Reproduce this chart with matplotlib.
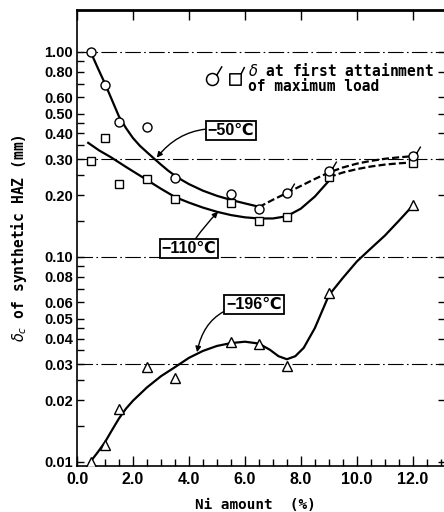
import numpy as np
import matplotlib
matplotlib.use("Agg")
import matplotlib.pyplot as plt
from matplotlib.path import Path
from matplotlib.lines import Line2D
from matplotlib.legend_handler import HandlerTuple
from matplotlib.ticker import FixedLocator, FixedFormatter, NullFormatter, MultipleLocator

# ---- data ---------------------------------------------------------------
ni = [0.5, 1.0, 1.5, 2.5, 3.5, 5.5, 6.5, 7.5, 9.0, 12.0]
d_50 = [1.00, 0.69, 0.455, 0.43, 0.243, 0.203, 0.172, 0.204, 0.262, 0.311]
d_110 = [0.295, 0.38, 0.227, 0.24, 0.192, 0.183, 0.15, 0.157, 0.246, 0.288]
d_196 = [0.0100, 0.0121, 0.0181, 0.029, 0.0257, 0.0385, 0.0377, 0.0294, 0.0667, 0.18]
flag_50 = [False, False, False, False, False, False, False, True, True, True]

# fitted curves (traced)
c50_x = [0.5, 0.75, 1.0, 1.25, 1.5, 1.75, 2.0, 2.25, 2.5, 2.75, 3.0, 3.25, 3.5, 3.75,
         4.0, 4.5, 5.0, 5.5, 6.0, 6.4]
c50_y = [0.99, 0.83, 0.70, 0.582, 0.484, 0.425, 0.380, 0.348, 0.324, 0.302, 0.282, 0.264,
         0.249, 0.237, 0.2265, 0.2104, 0.1986, 0.1897, 0.1824, 0.177]
c50d_x = [6.5, 7.0, 7.5, 8.0, 8.5, 9.0, 9.5, 10.0, 10.5, 11.0, 11.5, 12.0]
c50d_y = [0.175, 0.19, 0.205, 0.222, 0.24, 0.258, 0.273, 0.285, 0.294, 0.301, 0.306, 0.31]

c110_x = [0.4, 0.8, 1.2, 1.8, 2.4, 3.0, 3.5, 4.0, 4.5, 5.0, 5.5, 6.0, 6.5, 7.0, 7.5, 8.0, 8.5, 9.0]
c110_y = [0.36, 0.33, 0.307, 0.272, 0.242, 0.215, 0.196, 0.184, 0.174, 0.166, 0.160, 0.156, 0.154, 0.154, 0.158, 0.172, 0.197, 0.235]
c110d_x = [9.0, 9.5, 10.0, 10.5, 11.0, 11.5, 12.0]
c110d_y = [0.245, 0.258, 0.268, 0.276, 0.282, 0.286, 0.289]

c196_x = [0.45, 0.75, 1.0, 1.25, 1.5, 1.75, 2.0, 2.5, 3.0, 3.5, 4.0, 4.5, 5.0, 5.5, 6.0, 6.5,
          6.9, 7.2, 7.5, 7.8, 8.1, 8.5, 9.0, 9.5, 10.0, 10.5, 11.0, 11.5, 12.0]
c196_y = [0.0099, 0.0112, 0.0125, 0.0143, 0.0163, 0.0182, 0.0199, 0.0231, 0.0262, 0.029, 0.0322,
          0.0348, 0.0368, 0.038, 0.0386, 0.0378, 0.0352, 0.0328, 0.0317, 0.0328, 0.036, 0.045,
          0.065, 0.079, 0.095, 0.110, 0.127, 0.150, 0.178]

ytick_vals = [1.0, 0.8, 0.6, 0.5, 0.4, 0.3, 0.2, 0.1, 0.08, 0.06, 0.05, 0.04, 0.03, 0.02, 0.01]
ytick_labels = ["1.00", "0.80", "0.60", "0.50", "0.40", "0.30", "0.20", "0.10",
                "0.08", "0.06", "0.05", "0.04", "0.03", "0.02", "0.01"]
yminor_vals = [0.9, 0.7, 0.45, 0.35, 0.25, 0.15, 0.09, 0.07, 0.045, 0.035, 0.025, 0.015]
grid_y = [1.0, 0.3, 0.1, 0.03]
# --------------------------------------------------------------------------

TICKFONT = ["Liberation Sans", "DejaVu Sans"]
MONO = ["DejaVu Sans Mono", "DejaVu Sans"]

# markers with a small flag (first attainment of maximum load)
flag = Path([(0.7, 0.7), (1.6, 2.2)], [Path.MOVETO, Path.LINETO])
circ_flag = Path.make_compound_path(Path.unit_circle(), flag)
sq = Path([(-1, -1), (1, -1), (1, 1), (-1, 1), (-1, -1)],
          [Path.MOVETO, Path.LINETO, Path.LINETO, Path.LINETO, Path.CLOSEPOLY])
sq_flag = Path.make_compound_path(sq, Path([(1, 1), (1.6, 2.2)], [Path.MOVETO, Path.LINETO]))

fig = plt.figure(figsize=(4.44, 5.12), dpi=100)
ax = fig.add_axes([77 / 444, 46 / 512, 368 / 444, 456 / 512])
ax.set_yscale("log")
ax.set_xlim(0, 13.15)
ax.set_ylim(0.00956, 1.6)

for g in grid_y:
    ax.axhline(g, color="k", lw=0.8, ls=(0, (14, 3, 1.5, 3)), zorder=1)

LW = 1.6
DASH = (0, (3.2, 1.4))
ax.plot(c50_x, c50_y, color="k", lw=LW, zorder=2)
ax.plot(c50d_x, c50d_y, color="k", lw=LW, ls=DASH, zorder=2)
ax.plot(c110_x, c110_y, color="k", lw=LW, zorder=2)
ax.plot(c110d_x, c110d_y, color="k", lw=LW, ls=DASH, zorder=2)
ax.plot(c196_x, c196_y, color="k", lw=LW, zorder=2)

ni = np.array(ni)
d_50 = np.array(d_50)
flag_50 = np.array(flag_50)
MS = 6.5
ax.plot(ni[~flag_50], d_50[~flag_50], ls="none", marker="o", ms=MS, mfc="white", mec="k", mew=1.0, zorder=4)
ax.plot(ni[flag_50], d_50[flag_50], ls="none", marker=circ_flag, ms=MS * 2.2, mfc="white", mec="k", mew=1.0, zorder=4)
ax.plot(ni, d_110, ls="none", marker="s", ms=6.0, mfc="white", mec="k", mew=1.0, zorder=3)
ax.plot(ni, d_196, ls="none", marker="^", ms=7.5, mfc="white", mec="k", mew=1.0, zorder=4)

# boxed temperature labels
box = dict(boxstyle="square,pad=0.12", fc="white", ec="k", lw=1.3)
arr = dict(arrowstyle="-|>", lw=1.0, color="k", mutation_scale=8, shrinkA=0, shrinkB=0)
lbl = dict(ha="center", va="center", fontsize=11.5, fontweight="bold", family=TICKFONT, bbox=box, zorder=6)
ax.annotate("\u221250\u2103", xy=(2.85, 0.305), xytext=(5.5, 0.414),
            arrowprops=dict(arr, connectionstyle="arc3,rad=0.3"), **lbl)
ax.annotate("\u2212110\u2103", xy=(5.04, 0.166), xytext=(4.0, 0.110),
            arrowprops=dict(arr, connectionstyle="arc3,rad=-0.05"), **lbl)
ax.annotate("\u2212196\u2103", xy=(4.29, 0.0343), xytext=(6.32, 0.0587),
            arrowprops=dict(arr, connectionstyle="arc3,rad=0.4"), **lbl)

# key
h_c = Line2D([], [], ls="none", marker=circ_flag, ms=19, mfc="white", mec="k", mew=1.1)
h_s = Line2D([], [], ls="none", marker=sq_flag, ms=18, mfc="white", mec="k", mew=1.1)
leg = ax.legend([(h_c, h_s)], ["$\\delta$ at first attainment\nof maximum load"],
                handler_map={tuple: HandlerTuple(ndivide=None, pad=0.2)},
                loc="upper left", bbox_to_anchor=(0.34, 0.885), frameon=False,
                handlelength=2.9, handletextpad=0.25, borderpad=0, borderaxespad=0,
                prop=dict(family=MONO, weight="bold", size=10.5))
for t in leg.get_texts():
    t.set_linespacing(0.95)

# axes styling
ax.yaxis.set_major_locator(FixedLocator(ytick_vals))
ax.yaxis.set_major_formatter(FixedFormatter(ytick_labels))
ax.yaxis.set_minor_locator(FixedLocator(yminor_vals))
ax.yaxis.set_minor_formatter(NullFormatter())
ax.xaxis.set_minor_locator(MultipleLocator(0.5))
ax.set_xticks(np.arange(0, 13, 2.0))
ax.set_xticklabels(["%.1f" % v for v in np.arange(0, 13, 2.0)])

ax.tick_params(axis="y", which="both", direction="in", left=True, right=True, width=1.0)
ax.tick_params(axis="y", which="major", length=5, pad=3)
ax.tick_params(axis="y", which="minor", length=5, right=False)
ax.tick_params(axis="x", which="both", direction="in", bottom=True, top=True, width=1.0)
ax.tick_params(axis="x", which="major", length=7, pad=4)
ax.tick_params(axis="x", which="minor", length=5, top=False)
for t in ax.get_yticklabels():
    t.set_family(TICKFONT)
    t.set_fontweight("bold")
    t.set_fontsize(10.5)
for t in ax.get_xticklabels():
    t.set_family(TICKFONT)
    t.set_fontweight("bold")
    t.set_fontsize(11.5)

ax.spines["left"].set_linewidth(1.2)
ax.spines["bottom"].set_linewidth(1.2)
ax.spines["top"].set_linewidth(2.0)
ax.spines["right"].set_linewidth(1.2)

ax.set_xlabel("Ni amount  (%)", family=MONO, fontweight="bold", fontsize=10.3)
ax.xaxis.set_label_coords(0.484, -0.071)
ax.set_ylabel("$\\delta_c$ of synthetic HAZ (mm)", family=MONO, fontweight="bold", fontsize=10.5)
ax.yaxis.set_label_coords(-0.13, 0.5)

fig.savefig("out.png", dpi=100)
